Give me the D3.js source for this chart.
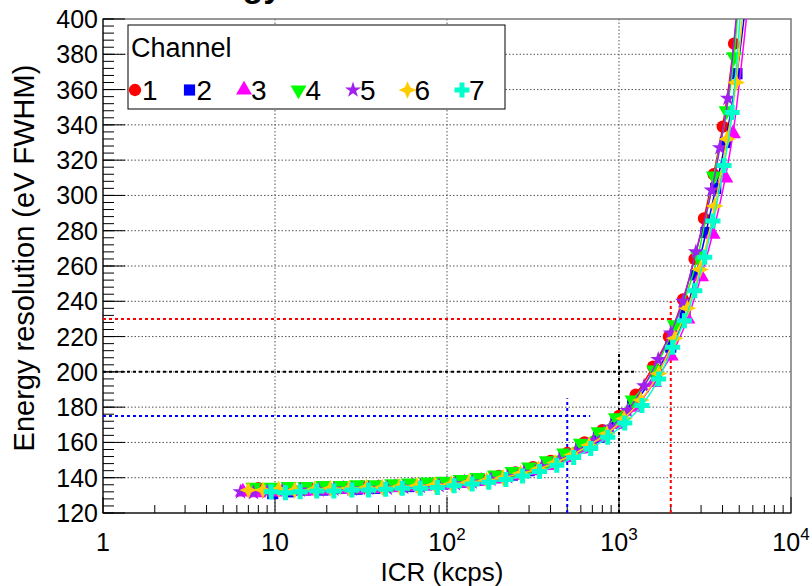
<!DOCTYPE html>
<html>
<head>
<meta charset="utf-8">
<script src="https://cdn.jsdelivr.net/npm/d3@7"></script>
<style>
	body { margin: 0; background: #fff; }
	text { font-family: "Liberation Sans", Arial, sans-serif; fill: #000; }
</style>
</head>
<body>
<svg id="chart" width="812" height="586"></svg>
<script>
	//DATA
	var channels = ["1", "2", "3", "4", "5", "6", "7"];
	var colors = ["#ff0000", "#0000ff", "#ff00ff", "#00ff00", "#a020f0", "#ffcc00", "#00ffcc"];

	// [ICR kcps, resolution eV FWHM]
	var ch1 = [[8,134],[10,133.5],[12.5,133.5],[16,134],[20,134.5],[25,134.5],[32,135],[40,135],[50,135.5],[63,136],[80,136.5],[100,137],[126,138],[158,139],[200,141],[250,143],[316,146],[400,149.5],[500,154],[630,160],[800,167],[1000,175],[1250,187],[1580,203],[1950,220],[2355,241],[2750,264],[3120,287],[3550,312],[4010,339],[4665,386]];
	var ch2 = [[9.7,131],[12,132],[15,133],[19,133],[24,134],[30,133.5],[38,134],[48,135],[60,135],[76,136],[95,136.5],[120,137.5],[150,138.5],[190,140],[240,141.5],[300,144],[380,147.5],[480,152],[600,157],[760,163],[960,171],[1200,181],[1650,200],[2000,214],[2420,232],[2800,255],[3205,279],[3650,304],[4150,330],[4850,369]];
	var ch3 = [[6.5,132],[8,131.5],[10,132],[12.5,132.5],[16,132.5],[20,133],[25,133.5],[32,133.5],[40,134],[50,134.5],[63,135],[80,135.5],[100,136],[126,137],[158,138],[200,139.5],[250,141.5],[316,144],[400,147],[500,151.5],[630,156.5],[800,163],[1000,170.5],[1260,180],[1600,194],[2000,209],[2500,230],[3000,254],[3500,278],[4150,310],[4600,335]];
	var ch4 = [[7.5,134.5],[9.5,134.5],[12,135],[15,135],[19,135.5],[24,135.5],[30,136],[38,136],[48,136.5],[60,137],[76,137.5],[95,138],[120,139],[150,140],[190,141.5],[240,143.5],[300,146],[380,149.5],[480,154],[600,159.5],[760,166],[960,174],[1200,184],[1600,201],[2110,226.6],[2877,265.7],[3560,311],[4220,348],[4665,378.5]];
	var ch5 = [[6.3,132],[7.5,131.5],[9,132],[11,132.5],[14,133],[18,133],[22,133.5],[28,133.5],[35,134],[45,134],[56,134.5],[70,135],[90,135.5],[112,136.5],[140,137.5],[180,139],[225,140.5],[280,143],[355,146],[450,150],[560,155],[710,161],[890,168.5],[1120,178],[1400,192],[1690,207],[2000,222],[2355,240],[2800,268],[3460,303],[3860,327],[4300,355]];
	var ch6 = [[7,133],[8.5,133],[10.5,133.5],[13,133],[17,133.5],[21,134],[27,134],[34,134.5],[42,134.5],[53,135],[67,135.5],[85,136],[106,136.5],[134,137.5],[170,138.5],[212,140],[268,142.5],[340,145],[425,148.5],[535,153],[670,158.5],[850,165],[1070,173.5],[1340,184],[1700,199],[2110,219],[2500,236],[2960,258],[3600,294],[4250,332],[4800,364]];
	var ch7 = [[9.5,132],[11.5,131.5],[14,132],[17.5,132.5],[22,132.5],[28,133],[35,133],[44,133.5],[55,134],[70,134],[88,134.5],[110,135.5],[140,136.5],[175,137.5],[220,139],[275,141],[345,143.5],[435,147],[545,151.5],[685,156.5],[860,163],[1080,171],[1360,181],[1700,196],[2050,214],[2400,229],[2760,246],[3150,265],[3520,285.5],[4080,317],[4550,347]];
	var series = [ch1, ch2, ch3, ch4, ch5, ch6, ch7];
	// where each fitted curve leaves the frame
	var fitEnd = [[4950,410],[5400,405],[5500,400],[4900,405],[4900,410],[5200,400],[5100,405]];

	var xTickLabels = [["1", ""], ["10", ""], ["10", "2"], ["10", "3"], ["10", "4"]];
	var xDomain = [1, 10000];
	var yDomain = [120, 400];
	var yTickValues = [120, 140, 160, 180, 200, 220, 240, 260, 280, 300, 320, 340, 360, 380, 400];

	// cut lines: ICR, resolution, end of horizontal, top of vertical
	var cutLines = [
		{ color: "#0000ff", icr: 500, res: 175, hEnd: 680, vTop: 185 },
		{ color: "#000000", icr: 1000, res: 200, hEnd: 1240, vTop: 211 },
		{ color: "#ff0000", icr: 2000, res: 230, hEnd: 2000, vTop: 240 }
	];

(function () {
	//LAYOUT
	var svg = d3.select("#chart");
	var pLeft = 103, pRight = 791, pTop = 19, pBottom = 513;

	var x = d3.scaleLog().domain(xDomain).range([pLeft, pRight]);
	var y = d3.scaleLinear().domain(yDomain).range([pBottom, pTop]);

	svg.append("defs").append("clipPath").attr("id", "clip")
		.append("rect").attr("x", pLeft).attr("y", pTop).attr("width", pRight - pLeft).attr("height", pBottom - pTop);

	// title, mostly above the page as in the original
	svg.append("text").text("Energy resolution")
		.attr("x", 167).attr("y", -3)
		.style("font-size", "34px").style("font-weight", "bold");

	// grid
	var grid = svg.append("g").attr("stroke", "#555").attr("stroke-width", 1).attr("stroke-dasharray", "1.5,2");
	grid.selectAll("line.gx").data([10, 100, 1000]).enter().append("line")
		.attr("x1", function (d) { return x(d) }).attr("x2", function (d) { return x(d) })
		.attr("y1", pTop).attr("y2", pBottom);
	grid.selectAll("line.gy").data(yTickValues.slice(1, -1)).enter().append("line")
		.attr("y1", function (d) { return y(d) }).attr("y2", function (d) { return y(d) })
		.attr("x1", pLeft).attr("x2", pRight);

	// frame
	svg.append("rect").attr("x", pLeft).attr("y", pTop).attr("width", pRight - pLeft).attr("height", pBottom - pTop)
		.attr("fill", "none").attr("stroke", "#777").attr("stroke-width", 1.5);

	// x axis ticks
	var xMinor = [];
	[1, 10, 100, 1000].forEach(function (dec) {
		for (var k = 2; k <= 9; k++) xMinor.push(dec * k);
	});
	var axes = svg.append("g").attr("stroke", "#000").attr("stroke-width", 1);
	axes.selectAll("line.xm").data(xMinor).enter().append("line")
		.attr("x1", function (d) { return x(d) }).attr("x2", function (d) { return x(d) })
		.attr("y1", pBottom).attr("y2", pBottom - 8);
	axes.selectAll("line.xM").data([1, 10, 100, 1000, 10000]).enter().append("line")
		.attr("x1", function (d) { return x(d) }).attr("x2", function (d) { return x(d) })
		.attr("y1", pBottom).attr("y2", pBottom - 16);

	// y axis ticks
	var yMinor = d3.range(yDomain[0], yDomain[1] + 0.1, 4);
	axes.selectAll("line.ym").data(yMinor).enter().append("line")
		.attr("y1", function (d) { return y(d) }).attr("y2", function (d) { return y(d) })
		.attr("x1", pLeft).attr("x2", pLeft + 11);
	axes.selectAll("line.yM").data(yTickValues).enter().append("line")
		.attr("y1", function (d) { return y(d) }).attr("y2", function (d) { return y(d) })
		.attr("x1", pLeft).attr("x2", pLeft + 22);
	axes.append("line").attr("x1", pLeft).attr("x2", pRight).attr("y1", pBottom).attr("y2", pBottom);
	axes.append("line").attr("x1", pLeft).attr("x2", pLeft).attr("y1", pTop).attr("y2", pBottom);

	// tick labels
	svg.selectAll("text.ylab").data(yTickValues).enter().append("text")
		.attr("class", "ylab").text(function (d) { return d })
		.attr("x", pLeft - 5).attr("y", function (d) { return y(d) + 9 })
		.attr("text-anchor", "end").style("font-size", "25px");

	var xl = svg.selectAll("text.xlab").data(xTickLabels).enter().append("text")
		.attr("class", "xlab")
		.attr("x", function (d, i) { return x(xDomain[0] * Math.pow(10, i)) })
		.attr("y", 551).attr("text-anchor", "middle").style("font-size", "25px");
	xl.append("tspan").text(function (d) { return d[0] });
	xl.append("tspan").text(function (d) { return d[1] }).attr("dy", -11).style("font-size", "17px");

	// axis titles
	svg.append("text").text("ICR (kcps)")
		.attr("x", 442).attr("y", 581).attr("text-anchor", "middle").style("font-size", "26px");
	svg.append("text").text("Energy resolution (eV FWHM)")
		.attr("transform", "translate(34,258) rotate(-90)")
		.attr("text-anchor", "middle").style("font-size", "29px");

	// cut lines
	var cuts = svg.append("g");
	cutLines.forEach(function (c) {
		cuts.append("line").attr("x1", pLeft).attr("x2", x(c.hEnd))
			.attr("y1", y(c.res)).attr("y2", y(c.res))
			.attr("stroke", c.color).attr("stroke-width", 2).attr("stroke-dasharray", "3,3");
		cuts.append("line").attr("x1", x(c.icr)).attr("x2", x(c.icr))
			.attr("y1", pBottom).attr("y2", y(c.vTop))
			.attr("stroke", c.color).attr("stroke-width", 2).attr("stroke-dasharray", "3,3");
	});

	// markers
	var star4 = {
		draw: function (ctx, size) {
			var r = Math.sqrt(size) * 0.75, s = r * 0.3;
			ctx.moveTo(0, -r); ctx.lineTo(s, -s); ctx.lineTo(r, 0); ctx.lineTo(s, s);
			ctx.lineTo(0, r); ctx.lineTo(-s, s); ctx.lineTo(-r, 0); ctx.lineTo(-s, -s); ctx.closePath();
		}
	};
	var markerTypes = [d3.symbolCircle, d3.symbolSquare, d3.symbolTriangle, d3.symbolTriangle, d3.symbolStar, star4, d3.symbolCross];
	var markerSizes = [120, 125, 110, 110, 80, 140, 125];
	var markerRotate = [0, 0, 0, 180, 0, 0, 0];

	function marker(i) {
		return d3.symbol().type(markerTypes[i]).size(markerSizes[i])();
	}

	var line = d3.line()
		.x(function (d) { return x(d[0]) })
		.y(function (d) { return y(d[1]) })
		.curve(d3.curveMonotoneX);

	var plot = svg.append("g").attr("clip-path", "url(#clip)");
	series.forEach(function (data, i) {
		var g = plot.append("g").attr("class", "channel-" + channels[i]);
		g.append("path").attr("d", line(data.concat([fitEnd[i]])))
			.attr("fill", "none").attr("stroke", colors[i]).attr("stroke-width", 1.5);
		g.selectAll("path.m").data(data).enter().append("path")
			.attr("class", "m").attr("d", marker(i)).attr("fill", colors[i])
			.attr("transform", function (d) {
				return "translate(" + x(d[0]) + "," + y(d[1]) + ") rotate(" + markerRotate[i] + ")";
			});
	});

	// legend
	var legend = svg.append("g").attr("class", "legend");
	legend.append("rect").attr("x", 128).attr("y", 25).attr("width", 377).attr("height", 84)
		.attr("fill", "#fff").attr("stroke", "#000").attr("stroke-width", 1);
	legend.append("text").text("Channel").attr("x", 131).attr("y", 57).style("font-size", "27px");
	var items = legend.selectAll("g.item").data(channels).enter().append("g").attr("class", "item")
		.attr("transform", function (d, i) { return "translate(" + (135 + 54.5 * i) + ",90)" });
	items.append("path").attr("d", function (d, i) { return marker(i) })
		.attr("fill", function (d, i) { return colors[i] })
		.attr("transform", function (d, i) { return "rotate(" + markerRotate[i] + ")" });
	items.append("text").text(function (d) { return d }).attr("x", 7).attr("y", 10).style("font-size", "28px");
})();
</script>
</body>
</html>
